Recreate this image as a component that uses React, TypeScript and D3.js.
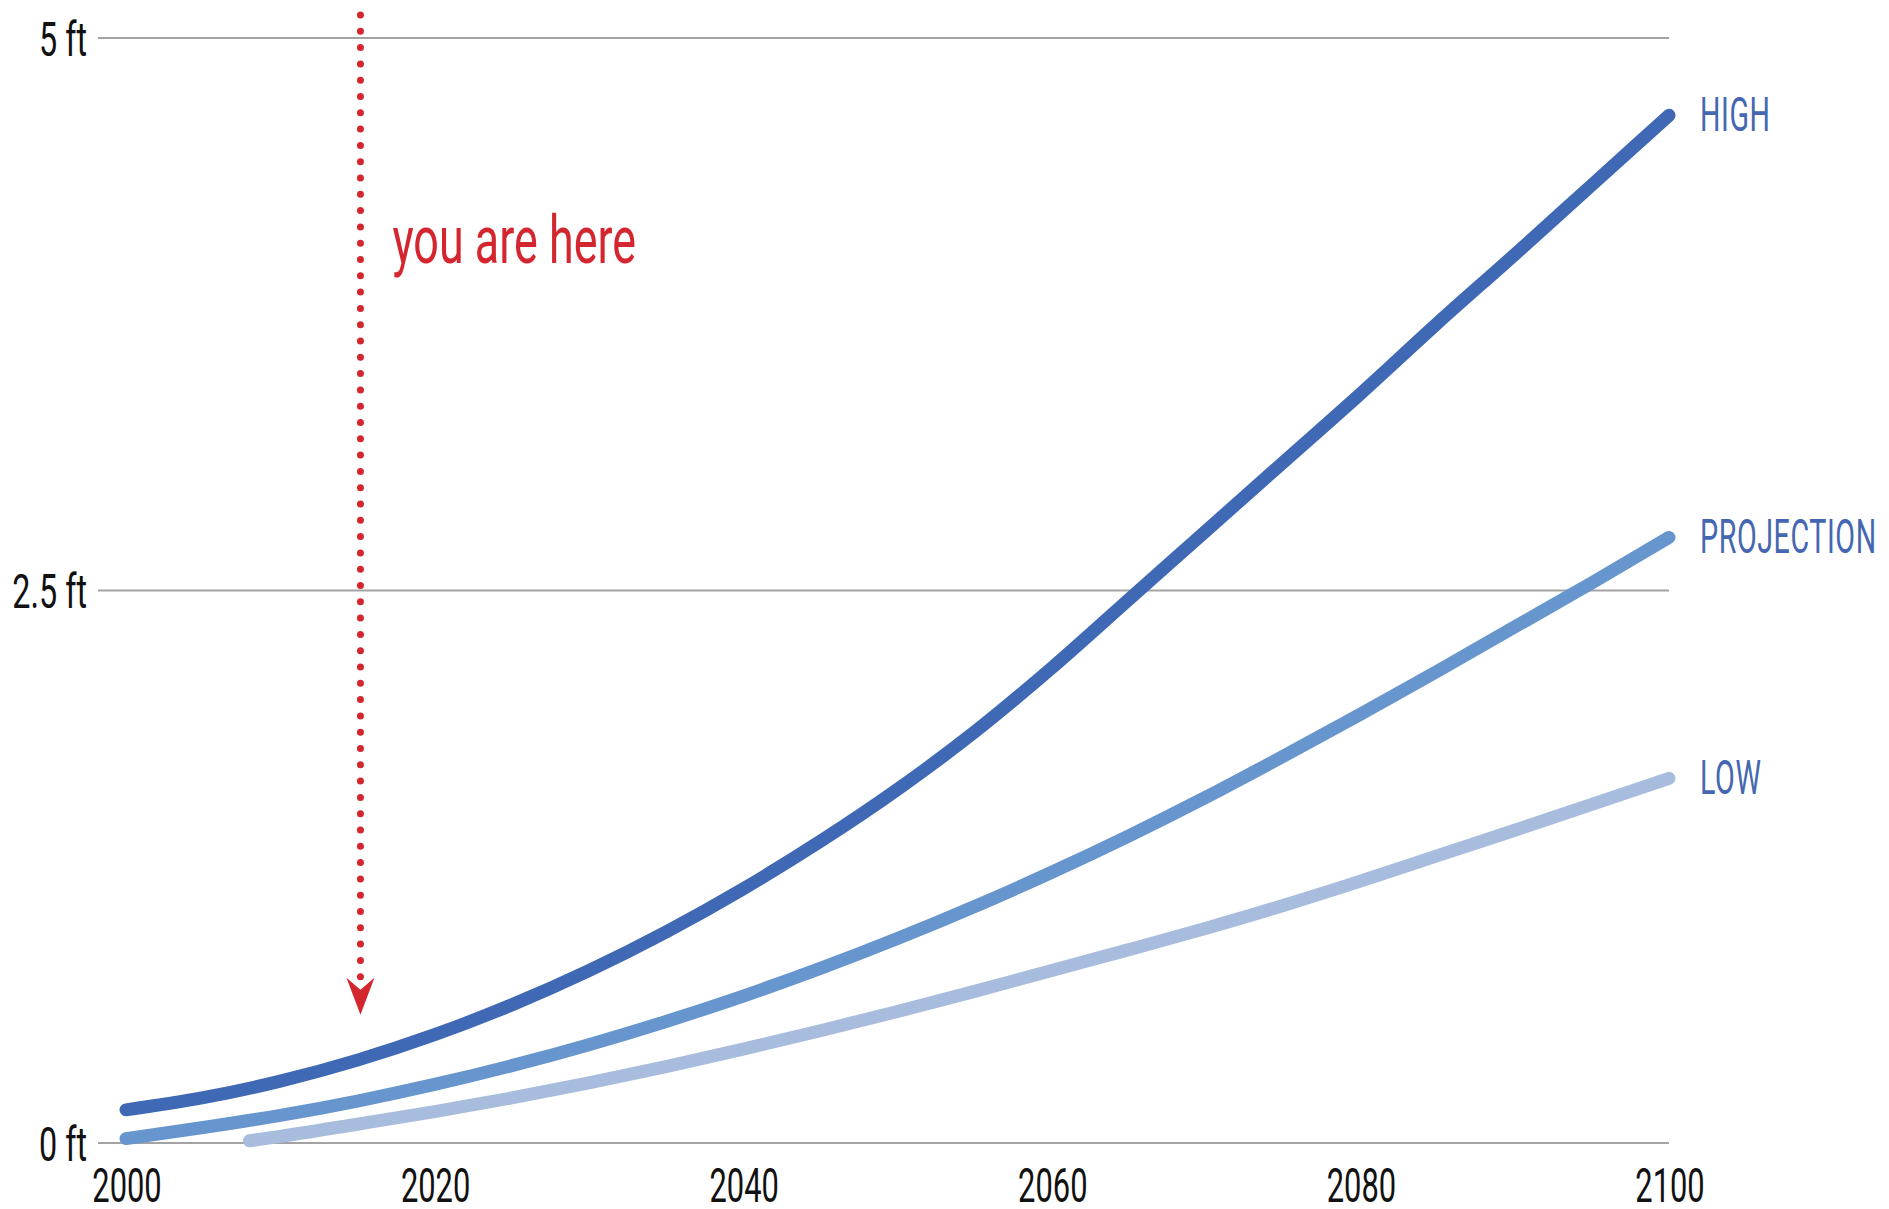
import * as d3 from "d3";

// sea level rise, feet above 2000 level
const years = [2000, 2005, 2010, 2015, 2020, 2025, 2030, 2035, 2040, 2045, 2050, 2055, 2060, 2065, 2070, 2075, 2080, 2085, 2090, 2095, 2100];
const highValues = [0.15, 0.205, 0.28, 0.375, 0.49, 0.625, 0.78, 0.955, 1.15, 1.365, 1.6, 1.86, 2.15, 2.46, 2.77, 3.08, 3.39, 3.71, 4.02, 4.335, 4.65];
const projectionValues = [0.02, 0.07, 0.125, 0.19, 0.265, 0.35, 0.445, 0.55, 0.665, 0.79, 0.925, 1.07, 1.225, 1.39, 1.565, 1.75, 1.94, 2.135, 2.335, 2.535, 2.74];
const lowYears = [2008, 2010, 2015, 2020, 2025, 2030, 2035, 2040, 2045, 2050, 2055, 2060, 2065, 2070, 2075, 2080, 2085, 2090, 2095, 2100];
const lowValues = [0.01, 0.03, 0.085, 0.142, 0.204, 0.272, 0.346, 0.425, 0.508, 0.595, 0.686, 0.781, 0.875, 0.972, 1.075, 1.185, 1.3, 1.415, 1.532, 1.65];

const yTicks = [0, 2.5, 5];
const yTickLabels = ["0 ft", "2.5 ft", "5 ft"];
const xTicks = [2000, 2020, 2040, 2060, 2080, 2100];
const hereYear = 2015;

const WIDTH = 1889;
const HEIGHT = 1209;
const FONT = "Roboto, 'Noto Sans', sans-serif";

const series = [
  { name: "LOW", xs: lowYears, ys: lowValues, color: "#a8bcde" },
  { name: "PROJECTION", xs: years, ys: projectionValues, color: "#6795cd" },
  { name: "HIGH", xs: years, ys: highValues, color: "#3f69b4" },
];

export default function App() {
  const x = d3.scaleLinear().domain([2000, 2100]).range([126, 1669]);
  const y = d3.scaleLinear().domain([0, 5]).range([1143, 38]);

  const line = d3
    .line<[number, number]>()
    .x((d) => x(d[0]))
    .y((d) => y(d[1]))
    .curve(d3.curveMonotoneX);

  const hx = x(hereYear) + 3;
  const dotTop = y(5) - 23;
  const tipY = y(0.58);
  const barbY = tipY - 37;

  return (
    <svg
      width={WIDTH}
      height={HEIGHT}
      style={{ position: "absolute", left: 0, top: 0, background: "#fff" }}
      fontFamily={FONT}
    >
      {/* grid */}
      {yTicks.map((t, i) => (
        <g key={t}>
          <line x1={98} x2={x(2100)} y1={y(t)} y2={y(t)} stroke="#a3a3a3" strokeWidth={2} />
          <text
            transform={`translate(87,${y(t)}) scale(0.66,1)`}
            textAnchor="end"
            dy="0.36em"
            fontSize={49}
            fill="#111"
          >
            {yTickLabels[i]}
          </text>
        </g>
      ))}

      {/* x axis labels */}
      {xTicks.map((t) => (
        <text
          key={t}
          transform={`translate(${x(t) + 1},1202) scale(0.63,1)`}
          textAnchor="middle"
          fontSize={49}
          fill="#111"
        >
          {t}
        </text>
      ))}

      {/* series */}
      {series.map((s) => {
        const pts = s.xs.map((yr, i) => [yr, s.ys[i]] as [number, number]);
        const last = pts[pts.length - 1];
        return (
          <g key={s.name}>
            <path
              d={line(pts) || ""}
              fill="none"
              stroke={s.color}
              strokeWidth={13}
              strokeLinecap="round"
              strokeLinejoin="round"
            />
            <text
              transform={`translate(${x(last[0]) + 31},${y(last[1]) - 2}) scale(0.585,1)`}
              dy="0.36em"
              fontSize={49}
              fill="#4567b1"
              letterSpacing={1}
            >
              {s.name}
            </text>
          </g>
        );
      })}

      {/* you are here marker */}
      <line
        x1={hx}
        x2={hx}
        y1={dotTop}
        y2={barbY - 1}
        stroke="#d4262f"
        strokeWidth={7}
        strokeLinecap="round"
        strokeDasharray="0 16.3"
      />
      <path
        d={`M${hx},${tipY} L${hx - 14},${barbY} L${hx},${barbY + 12} L${hx + 14},${barbY} Z`}
        fill="#d4262f"
      />
      <text
        transform={`translate(${hx + 32},263) scale(0.68,1)`}
        fontSize={66}
        fill="#d4262f"
      >
        you are here
      </text>
    </svg>
  );
}
